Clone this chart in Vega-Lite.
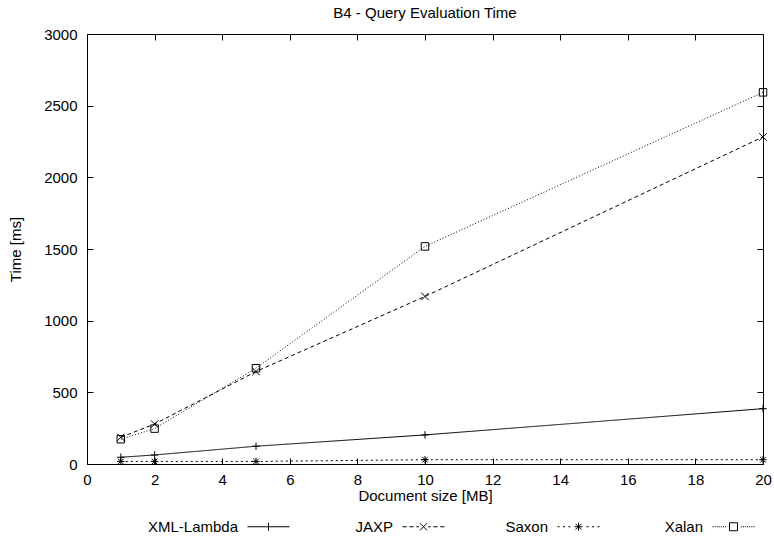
{
  "$schema": "https://vega.github.io/schema/vega-lite/v6.json",
  "width": 676,
  "height": 430,
  "autosize": {"type": "none"},
  "padding": {"left": 87, "top": 34, "right": 11, "bottom": 74},
  "title": {
    "text": "B4 - Query Evaluation Time",
    "fontSize": 15,
    "fontWeight": "normal",
    "font": "Liberation Sans",
    "color": "black",
    "offset": 6,
    "anchor": "middle",
    "frame": "group"
  },
  "config": {
    "font": "Liberation Sans",
    "view": {"stroke": "black", "strokeWidth": 1},
    "axis": {
      "domain": false,
      "grid": false,
      "tickColor": "black",
      "tickSize": -6,
      "tickWidth": 1,
      "labelFont": "Liberation Sans",
      "labelFontSize": 15,
      "labelColor": "black",
      "titleFont": "Liberation Sans",
      "titleFontSize": 15,
      "titleFontWeight": "normal",
      "titleColor": "black"
    }
  },
  "data": {
    "values": [
      {"engine": "XML-Lambda", "size_mb": 1, "time_ms": 47},
      {"engine": "XML-Lambda", "size_mb": 2, "time_ms": 63},
      {"engine": "XML-Lambda", "size_mb": 5, "time_ms": 124},
      {"engine": "XML-Lambda", "size_mb": 10, "time_ms": 203},
      {"engine": "XML-Lambda", "size_mb": 20, "time_ms": 386},
      {"engine": "JAXP", "size_mb": 1, "time_ms": 186},
      {"engine": "JAXP", "size_mb": 2, "time_ms": 279},
      {"engine": "JAXP", "size_mb": 5, "time_ms": 645},
      {"engine": "JAXP", "size_mb": 10, "time_ms": 1169},
      {"engine": "JAXP", "size_mb": 20, "time_ms": 2282},
      {"engine": "Saxon", "size_mb": 1, "time_ms": 18},
      {"engine": "Saxon", "size_mb": 2, "time_ms": 18},
      {"engine": "Saxon", "size_mb": 5, "time_ms": 18},
      {"engine": "Saxon", "size_mb": 10, "time_ms": 30},
      {"engine": "Saxon", "size_mb": 20, "time_ms": 30},
      {"engine": "Xalan", "size_mb": 1, "time_ms": 173},
      {"engine": "Xalan", "size_mb": 2, "time_ms": 247},
      {"engine": "Xalan", "size_mb": 5, "time_ms": 668},
      {"engine": "Xalan", "size_mb": 10, "time_ms": 1518},
      {"engine": "Xalan", "size_mb": 20, "time_ms": 2593}
    ]
  },
  "layer": [
    {
      "mark": {"type": "line", "color": "black", "strokeWidth": 1},
      "encoding": {
        "x": {
          "field": "size_mb",
          "type": "quantitative",
          "scale": {"domain": [0, 20], "nice": false},
          "axis": {
            "title": "Document size [MB]",
            "values": [0, 2, 4, 6, 8, 10, 12, 14, 16, 18, 20],
            "labelPadding": 14,
            "labelFlush": false,
            "titlePadding": 1
          }
        },
        "y": {
          "field": "time_ms",
          "type": "quantitative",
          "scale": {"domain": [0, 3000], "nice": false},
          "axis": {
            "title": "Time [ms]",
            "format": "d",
            "values": [0, 500, 1000, 1500, 2000, 2500, 3000],
            "labelPadding": 16,
            "labelFlush": false,
            "titlePadding": 20
          }
        },
        "strokeDash": {
          "field": "engine",
          "type": "nominal",
          "scale": {
            "domain": ["JAXP", "Saxon", "Xalan", "XML-Lambda"],
            "range": [[4, 3], [2, 3], [1, 2], [1, 0]]
          },
          "legend": null
        }
      }
    },
    {
      "mark": {"type": "point", "filled": false, "color": "black", "strokeWidth": 1, "size": 56, "opacity": 1},
      "encoding": {
        "x": {"field": "size_mb", "type": "quantitative", "axis": null},
        "y": {"field": "time_ms", "type": "quantitative", "axis": null},
        "shape": {
          "field": "engine",
          "type": "nominal",
          "scale": {
            "domain": ["XML-Lambda", "JAXP", "Saxon", "Xalan"],
            "range": [
              "M-1,0H1M0,-1V1",
              "M-1,-1L1,1M-1,1L1,-1",
              "M-1,0H1M0,-1V1M-0.75,-0.75L0.75,0.75M-0.75,0.75L0.75,-0.75",
              "M-1,-1H1V1H-1Z"
            ]
          },
          "legend": null
        }
      }
    },
    {
      "mark": {"type": "point", "opacity": 0},
      "encoding": {
        "x": {
          "field": "size_mb",
          "type": "quantitative",
          "axis": {"orient": "top", "labels": false, "title": null, "values": [0, 2, 4, 6, 8, 10, 12, 14, 16, 18, 20]}
        },
        "y": {
          "field": "time_ms",
          "type": "quantitative",
          "axis": {"orient": "right", "labels": false, "title": null, "values": [0, 500, 1000, 1500, 2000, 2500, 3000]}
        }
      }
    },
    {
      "transform": [{"filter": "datum.size_mb < 0"}],
      "mark": {"type": "point", "filled": false, "color": "black", "strokeWidth": 1},
      "encoding": {
        "shape": {
          "field": "engine",
          "type": "nominal",
          "scale": {
            "domain": ["XML-Lambda", "JAXP", "Saxon", "Xalan"],
            "range": [
              "M-1,0H1M0,-0.19V0.19",
              "M-1,0H-0.8M-0.67,0H-0.47M-0.34,0H-0.22M0.22,0H0.34M0.47,0H0.67M0.8,0H1M-0.17,-0.17L0.17,0.17M-0.17,0.17L0.17,-0.17",
              "M-1,0H-0.9M-0.74,0H-0.64M-0.48,0H-0.38M0.38,0H0.48M0.64,0H0.74M0.9,0H1M-0.19,0H0.19M0,-0.19V0.19M-0.14,-0.14L0.14,0.14M-0.14,0.14L0.14,-0.14",
              "M-1,0H-0.95M-0.9,0H-0.85M-0.8,0H-0.75M-0.7,0H-0.65M-0.6,0H-0.55M-0.5,0H-0.45M-0.4,0H-0.35M0.35,0H0.4M0.45,0H0.5M0.55,0H0.6M0.65,0H0.7M0.75,0H0.8M0.85,0H0.9M0.95,0H1M-0.19,-0.19H0.19V0.19H-0.19Z"
            ]
          },
          "legend": {
            "orient": "none",
            "legendX": 160,
            "legendY": 471,
            "direction": "horizontal",
            "columns": 4,
            "gridAlign": "all",
            "columnPadding": 58,
            "title": null,
            "labelFont": "Liberation Sans",
            "labelFontSize": 15,
            "labelColor": "black",
            "labelAlign": "right",
            "labelOffset": -52,
            "symbolSize": 1764,
            "symbolStrokeWidth": 1,
            "symbolStrokeColor": "black",
            "symbolFillColor": "transparent",
            "symbolOpacity": 1
          }
        }
      }
    }
  ],
  "resolve": {
    "axis": {"x": "independent", "y": "independent"},
    "scale": {"shape": "independent"},
    "legend": {"shape": "independent"}
  }
}
